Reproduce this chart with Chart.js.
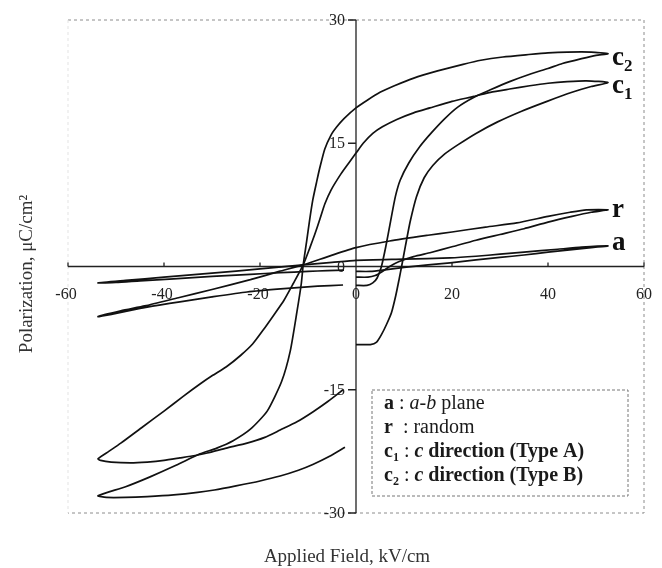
<!DOCTYPE html>
<html>
<head>
<meta charset="utf-8">
<script src="https://cdn.jsdelivr.net/npm/chart.js@4.4.1/dist/chart.umd.min.js"></script>
<style>
  body { margin: 0; background: #fff; }
  canvas { display: block; }
</style>
</head>
<body>
<canvas id="loops" width="662" height="568"></canvas>
<script>
// Applied field (kV/cm) and polarization (uC/cm2), each loop in measuring order:
// start at E=0, up to +Emax, down to -Emax, back towards 0
const c2E = [0, 2.3, 3.5, 4.4, 5.3, 6.2, 7.2, 8.2, 9.2, 11, 13.3, 15.6, 18.5, 21.2, 24.6, 28, 32, 36.2, 40, 43, 47, 50, 52.5,
  49, 44, 40, 36, 30.6, 26, 22.3, 17, 11.9, 8, 5, 2.5, 0, -2.5, -4, -5.2, -6.5, -7.5, -8.2, -9, -9.7, -10.3, -11, -11.4, -12.3, -13.7, -15.5, -18.5, -22, -25.6, -29, -32.5, -37.5, -42.9, -48, -53.75,
  -52, -48, -43.5, -38, -33, -29.5, -25, -20, -15.8, -12, -9, -5.5, -2.3];
const c2P = [-2.3, -2.3, -2.0, -1.4, 0, 2.4, 5.5, 8.5, 10.5, 12.6, 14.6, 16.2, 18, 19.4, 20.6, 21.5, 22.5, 23.4, 24.1, 24.7, 25.3, 25.7, 25.9,
  26.1, 26.1, 26.0, 25.8, 25.5, 25.1, 24.6, 23.8, 22.9, 22, 21.2, 20.3, 19.3, 18, 17, 16, 14.3, 12.1, 10.3, 8.1, 5.5, 3, 0.2, -2.1, -5.5, -10.3, -14, -17.6, -19.8, -21.2, -22.1, -22.8, -24.2, -25.6, -26.8, -27.9,
  -28.1, -28.1, -28.0, -27.8, -27.5, -27.2, -26.7, -26.1, -25.5, -24.8, -24.1, -23.1, -22.0];

const c1E = [0, 3, 4.3, 5.3, 6.4, 7.4, 8.3, 9.0, 9.5, 10.3, 11.3, 12.6, 14.2, 16, 18.5, 21.2, 25, 29.5, 34.5, 39.8, 45, 49, 52.5,
  48, 44, 40, 36.2, 32, 28, 24.6, 20, 15.4, 12, 8.5, 5.5, 3.5, 1.5, 0, -1.5, -3.1, -5.2, -6.5, -7.5, -8.6, -9.6, -11, -13.1, -15, -17, -19.3, -21.5, -24, -27, -30, -32.5, -36, -40, -44.4, -49, -51.5, -53.75,
  -53.2, -51, -47, -43.5, -40, -36.7, -33.5, -31, -27, -22.7, -19, -15.8, -12.3, -9, -5.8, -2.7];
const c1P = [-9.5, -9.5, -9.2, -8.3, -7, -5.6, -3.5, -1.5, 0, 2.5, 5.5, 8.5, 10.8, 12.3, 13.7, 14.8, 16.2, 17.6, 18.9, 20.1, 21.2, 21.9, 22.4,
  22.6, 22.5, 22.3, 22.0, 21.6, 21.2, 20.7, 20.1, 19.3, 18.7, 17.9, 17.0, 16.2, 15.0, 13.8, 12.6, 11.3, 9.3, 7.6, 5.8, 3.9, 2.3, 0.2, -2.1, -4.1, -5.8, -7.7, -9.4, -10.8, -12.2, -13.3, -14.3, -15.8, -17.6, -19.5, -21.5, -22.5, -23.4,
  -23.6, -23.8, -23.9, -23.8, -23.6, -23.3, -23.0, -22.7, -22.1, -21.5, -20.8, -19.9, -18.9, -17.7, -16.4, -15.0];

const rE = [0, 2.5, 4, 5.5, 7, 9, 12, 15.6, 20, 25, 30, 35, 40, 45, 49, 52.5,
  48, 44.6, 40, 33.5, 27, 20, 15, 7, 0, -5.4, -11, -16, -22, -30, -37, -44, -49, -53.75,
  -50, -45, -41, -36.7, -30, -22.7, -15, -8, -2.7];
const rP = [-1.3, -1.3, -1.1, -0.6, 0, 0.6, 1.2, 1.7, 2.4, 3.2, 3.9, 4.6, 5.4, 6.1, 6.6, 6.9,
  6.9, 6.6, 6.1, 5.3, 4.8, 4.2, 3.8, 3.1, 2.3, 1.3, 0.2, -0.6, -1.6, -2.8, -3.8, -4.8, -5.4, -6.1,
  -5.7, -5.1, -4.7, -4.3, -3.7, -3.1, -2.7, -2.4, -2.25];

const aE = [0, 3, 6, 10, 15, 19.6, 25, 30, 35, 40, 45, 49, 52.5,
  47, 42, 35, 30, 25, 19.6, 10, 0, -5, -11, -20, -30, -40, -48, -53.75,
  -50, -45, -38, -30, -22, -15.8, -10, -6, -2.5];
const aP = [-0.6, -0.6, -0.4, -0.1, 0.2, 0.45, 0.8, 1.1, 1.4, 1.75, 2.05, 2.3, 2.5,
  2.35, 2.1, 1.75, 1.5, 1.25, 1.05, 0.9, 0.75, 0.5, 0.2, -0.3, -0.8, -1.3, -1.7, -2.0,
  -1.95, -1.75, -1.5, -1.2, -0.95, -0.75, -0.6, -0.5, -0.45];

const xTicks = [-60, -40, -20, 0, 20, 40, 60];
const yTicks = [30, 15, 0, -15, -30];
const curveNames = [['c', '2'], ['c', '1'], ['r', ''], ['a', '']];

const serif = '"Liberation Serif", "Times New Roman", serif';

function pairs(xs, ys) {
  return xs.map((x, i) => ({ x: x, y: ys[i] }));
}

function loop(label, xs, ys) {
  return {
    label: label,
    data: pairs(xs, ys),
    showLine: true,
    borderColor: '#111',
    borderWidth: 1.7,
    pointRadius: 0,
    tension: 0.2,
    fill: false
  };
}

// draw runs of text [text, style] where style: b bold, i italic, s subscript
function drawRuns(ctx, runs, x, y, size) {
  runs.forEach(run => {
    const st = run[1];
    const sz = st.includes('s') ? Math.round(size * 0.62) : size;
    ctx.font = (st.includes('i') ? 'italic ' : '') + (st.includes('b') ? 'bold ' : '') + sz + 'px ' + serif;
    ctx.fillText(run[0], x, y + (st.includes('s') ? size * 0.22 : 0));
    x += ctx.measureText(run[0]).width;
  });
}

const crossAxes = {
  id: 'crossAxes',
  beforeDatasetsDraw(chart) {
    const { ctx, chartArea: a, scales: { x, y } } = chart;
    const x0 = x.getPixelForValue(0);
    const y0 = y.getPixelForValue(0);
    ctx.save();
    // dotted outer frame
    ctx.strokeStyle = '#8c8c8c';
    ctx.lineWidth = 1;
    ctx.setLineDash([3, 3]);
    ctx.beginPath();
    ctx.moveTo(a.left, a.top);
    ctx.lineTo(a.right, a.top);
    ctx.lineTo(a.right, a.bottom);
    ctx.lineTo(a.left, a.bottom);
    ctx.stroke();
    ctx.strokeStyle = '#e4e4e4';
    ctx.beginPath();
    ctx.moveTo(a.left, a.top);
    ctx.lineTo(a.left, a.bottom);
    ctx.stroke();
    ctx.setLineDash([]);

    // axes through the origin
    ctx.strokeStyle = '#222';
    ctx.lineWidth = 1.3;
    ctx.beginPath();
    ctx.moveTo(a.left, y0);
    ctx.lineTo(a.right, y0);
    ctx.moveTo(x0, a.top);
    ctx.lineTo(x0, a.bottom);
    yTicks.forEach(v => {
      const py = y.getPixelForValue(v);
      ctx.moveTo(x0 - 8, py);
      ctx.lineTo(x0, py);
    });
    xTicks.forEach(v => {
      const px = x.getPixelForValue(v);
      ctx.moveTo(px, y0);
      ctx.lineTo(px, y0 - 4);
    });
    ctx.stroke();

    // tick labels
    ctx.fillStyle = '#222';
    ctx.font = '16px ' + serif;
    ctx.textAlign = 'center';
    ctx.textBaseline = 'middle';
    xTicks.forEach(v => {
      ctx.fillText(String(v), x.getPixelForValue(v) - (v < 0 ? 2 : 0), y0 + 28);
    });
    ctx.textAlign = 'right';
    yTicks.forEach(v => {
      ctx.fillText(String(v), x0 - 11, y.getPixelForValue(v) + 1);
    });

    // axis titles
    ctx.fillStyle = '#333';
    ctx.font = '19px ' + serif;
    ctx.textAlign = 'center';
    ctx.fillText('Applied Field, kV/cm', (a.left + a.right) / 2 - 9, 557);
    ctx.save();
    ctx.translate(27, 274);
    ctx.rotate(-Math.PI / 2);
    ctx.fillText('Polarization, \u03bcC/cm\u00b2', 0, 0);
    ctx.restore();
    ctx.restore();
  },
  afterDatasetsDraw(chart) {
    const { ctx, scales: { x, y } } = chart;
    ctx.save();
    ctx.fillStyle = '#111';
    ctx.textAlign = 'left';
    ctx.textBaseline = 'alphabetic';
    // curve labels next to the +Emax tips
    const drops = [11, 11, 7, 4];
    chart.data.datasets.forEach((ds, i) => {
      const tip = ds.data.reduce((m, p) => (p.x > m.x ? p : m), ds.data[0]);
      const px = x.getPixelForValue(tip.x) + 4;
      const py = y.getPixelForValue(tip.y) + drops[i];
      const runs = [[curveNames[i][0], 'b']];
      if (curveNames[i][1]) runs.push([curveNames[i][1], 'bs']);
      drawRuns(ctx, runs, px, py, 27);
    });

    // key box
    const bx = 372, by = 390, bw = 256, bh = 106;
    ctx.strokeStyle = '#777';
    ctx.lineWidth = 1;
    ctx.setLineDash([3, 2]);
    ctx.strokeRect(bx, by, bw, bh);
    ctx.setLineDash([]);
    ctx.fillStyle = '#1a1a1a';
    const rows = [
      [['a', 'b'], [' : ', ''], ['a-b', 'i'], [' plane', '']],
      [['r', 'b'], ['  : random', '']],
      [['c', 'b'], ['1', 'bs'], [' : ', ''], ['c', 'bi'], [' direction (Type A)', 'b']],
      [['c', 'b'], ['2', 'bs'], [' : ', ''], ['c', 'bi'], [' direction (Type B)', 'b']]
    ];
    rows.forEach((r, i) => drawRuns(ctx, r, bx + 12, by + 19 + i * 24, 20));
    ctx.restore();
  }
};

new Chart(document.getElementById('loops'), {
  type: 'scatter',
  data: {
    datasets: [
      loop('c2', c2E, c2P),
      loop('c1', c1E, c1P),
      loop('r', rE, rP),
      loop('a', aE, aP)
    ]
  },
  options: {
    responsive: false,
    animation: false,
    layout: { padding: { left: 68, right: 18, top: 20, bottom: 55 } },
    scales: {
      x: { type: 'linear', min: -60, max: 60, display: false },
      y: { type: 'linear', min: -30, max: 30, display: false }
    },
    plugins: {
      legend: { display: false },
      tooltip: { enabled: false }
    }
  },
  plugins: [crossAxes]
});
</script>
</body>
</html>
